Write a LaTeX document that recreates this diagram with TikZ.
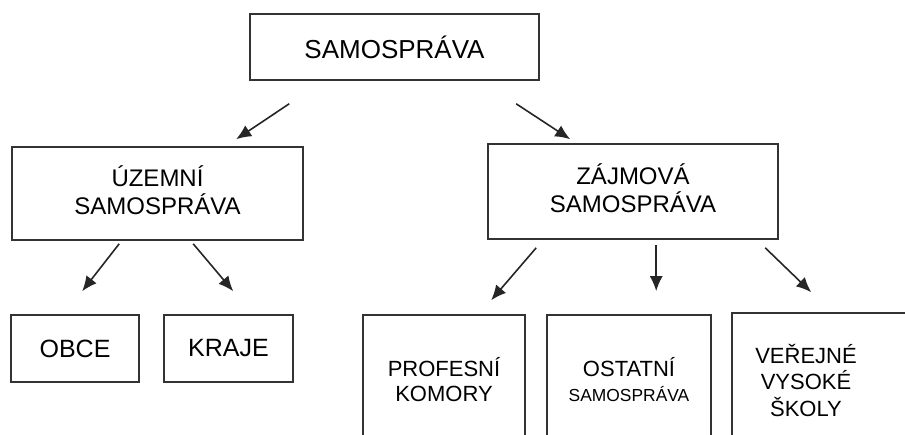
\documentclass[tikz,border=0pt]{standalone}
\usepackage{fontspec}
\setmainfont{Liberation Sans}
\usetikzlibrary{arrows.meta}
\usetikzlibrary{positioning}
\tikzset{
    box/.style={
           rectangle,
           draw=black!80, line width=0.8pt,
           inner sep=2pt,
           text centered,
           },
    arr/.style={
           -{Latex[length=7.5pt,width=6.5pt]},
           line width=0.8pt,
           draw=black!85,
           },
}

\begin{document}
\begin{tikzpicture}[x=0.5pt, y=-0.5pt]
	\clip (0,0) rectangle (905,434);

	\node[box, minimum width=144.5pt, minimum height=33pt,
	      font=\fontsize{13}{15}\selectfont] (samo) at (394.5,47) {\raisebox{-1.5pt}{SAMOSPRÁVA}};

	\node[box, minimum width=145.5pt, minimum height=46.5pt,
	      font=\fontsize{12}{12.5}\selectfont] (uzemni) at (157.5,193.5) {
		\begin{tabular}{c}
		ÚZEMNÍ\\
		SAMOSPRÁVA
		\end{tabular}
	};
	\node[box, minimum width=145pt, minimum height=47.5pt,
	      font=\fontsize{12}{12.5}\selectfont] (zajmova) at (633,191.5) {
		\begin{tabular}{c}
		ZÁJMOVÁ\\
		SAMOSPRÁVA
		\end{tabular}
	};

	\node[box, minimum width=64pt, minimum height=33.5pt,
	      font=\fontsize{12.5}{14}\selectfont] (obce) at (75,348.5) {OBCE};
	\node[box, minimum width=64.5pt, minimum height=33.5pt,
	      font=\fontsize{12.5}{14}\selectfont] (kraje) at (228.5,348.5) {KRAJE};

	\node[box, minimum width=81pt, minimum height=68pt,
	      font=\fontsize{11}{12.5}\selectfont] (komory) at (444,383) {
		\begin{tabular}{c}
		PROFESNÍ\\
		KOMORY
		\end{tabular}
	};
	\node[box, minimum width=82pt, minimum height=68pt,
	      font=\fontsize{11}{12.5}\selectfont] (ostatni) at (629,383) {
		\begin{tabular}{c}
		OSTATNÍ\\
		{\fontsize{8.7}{10}\selectfont SAMOSPRÁVA}
		\end{tabular}
	};
	\node[box, minimum width=91.5pt, minimum height=71pt,
	      font=\fontsize{11}{12.5}\selectfont] (skoly) at (823.5,384) {
		\begin{tabular}{c}
		VEŘEJNÉ\\
		VYSOKÉ\\
		ŠKOLY
		\end{tabular}\hspace*{17.5pt}
	};

	% arrows
	\draw[arr] ([xshift=20pt,yshift=-11.5pt]samo.south west) -- ([xshift=112.5pt,yshift=3.5pt]uzemni.north west);
	\draw[arr] ([xshift=133.5pt,yshift=-11.5pt]samo.south west) -- ([xshift=41.5pt,yshift=2pt]zajmova.north west);

	\draw[arr] ([xshift=54pt,yshift=-1.5pt]uzemni.south west) -- ([xshift=36pt,yshift=11.5pt]obce.north west);
	\draw[arr] ([xshift=91pt,yshift=-1.5pt]uzemni.south west) -- ([xshift=35pt,yshift=11.5pt]kraje.north west);

	\draw[arr] ([xshift=24.5pt,yshift=-4pt]zajmova.south west) -- ([xshift=64.5pt,yshift=7pt]komory.north west);
	\draw[arr] ([xshift=84.5pt,yshift=-2.5pt]zajmova.south west) -- ([xshift=55pt,yshift=11.5pt]ostatni.north west);
	\draw[arr] ([xshift=139pt,yshift=-4pt]zajmova.south west) -- ([xshift=40pt,yshift=10pt]skoly.north west);

\end{tikzpicture}
\end{document}
